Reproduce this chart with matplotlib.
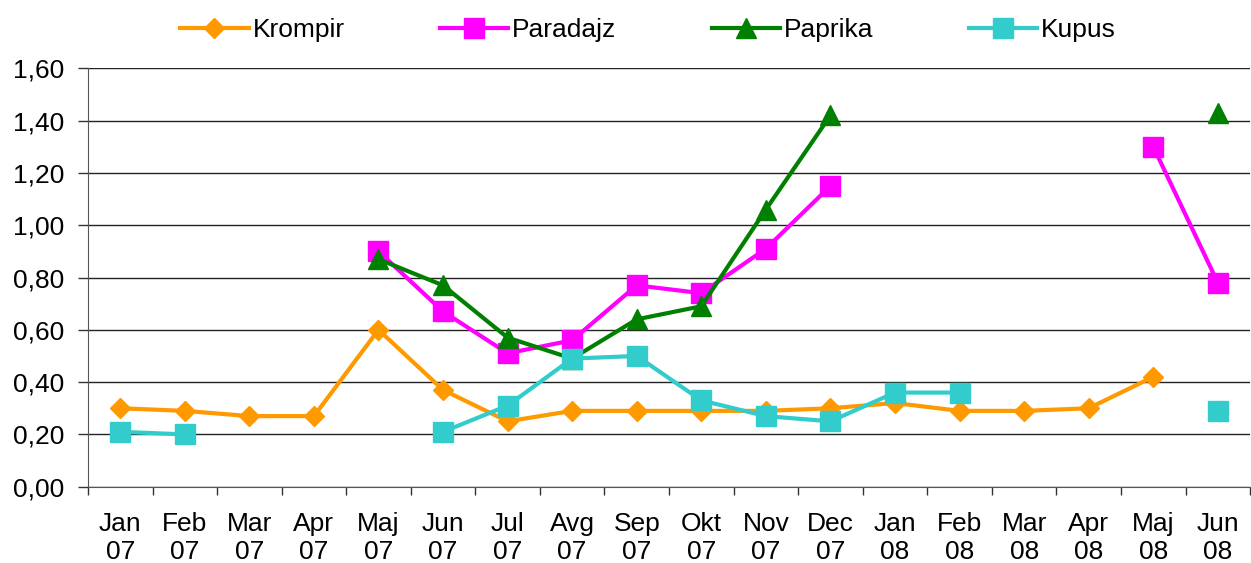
import numpy as np
import matplotlib
matplotlib.use("Agg")
import matplotlib.pyplot as plt

plt.rcParams['font.family'] = ['Liberation Sans', 'DejaVu Sans']

months = ["Jan\n07", "Feb\n07", "Mar\n07", "Apr\n07", "Maj\n07", "Jun\n07", "Jul\n07", "Avg\n07",
          "Sep\n07", "Okt\n07", "Nov\n07", "Dec\n07", "Jan\n08", "Feb\n08", "Mar\n08", "Apr\n08",
          "Maj\n08", "Jun\n08"]
nan = np.nan
krompir = [0.30, 0.29, 0.27, 0.27, 0.60, 0.37, 0.25, 0.29, 0.29, 0.29, 0.29, 0.30,
           0.32, 0.29, 0.29, 0.30, 0.42, nan]
paradajz = [nan, nan, nan, nan, 0.90, 0.67, 0.51, 0.56, 0.77, 0.74, 0.91, 1.15,
            nan, nan, nan, nan, 1.30, 0.78]
paprika = [nan, nan, nan, nan, 0.87, 0.77, 0.57, 0.49, 0.64, 0.69, 1.06, 1.42,
           nan, nan, nan, nan, nan, 1.43]
kupus = [0.21, 0.20, nan, nan, nan, 0.21, 0.31, 0.49, 0.50, 0.33, 0.27, 0.25,
         0.36, 0.36, nan, nan, nan, 0.29]
yticks = [0.0, 0.2, 0.4, 0.6, 0.8, 1.0, 1.2, 1.4, 1.6]

fig = plt.figure(figsize=(12.51, 5.63), dpi=100)
ax = fig.add_axes([0.0703, 0.1355, 0.929, 0.7432])
x = np.arange(len(months))

ax.plot(x, krompir, color="#FF9900", lw=3, marker="D", ms=10.5, label="Krompir")
ax.plot(x, paradajz, color="#FF00FF", lw=3, marker="s", ms=15, label="Paradajz")
ax.plot(x, paprika, color="#008000", lw=3, marker="^", ms=15, label="Paprika")
ax.plot(x, kupus, color="#33CCCC", lw=3, marker="s", ms=15, label="Kupus")

ax.set_xlim(-0.5, len(months) - 0.5)
ax.set_ylim(0, 1.6)
ax.set_yticks(yticks)
ax.set_yticklabels([f"{v:.2f}".replace(".", ",") for v in yticks])
ax.set_xticks(x)
ax.set_xticklabels(months, linespacing=1.2)
ax.set_xticks(np.arange(len(months) + 1) - 0.5, minor=True)
ax.tick_params(axis="x", which="major", length=0, pad=18, labelsize=19)
ax.tick_params(axis="x", which="minor", length=6, width=1, color="#333333")
ax.tick_params(axis="y", length=7, width=1, pad=10, labelsize=19, color="#333333")

ax.grid(axis="y", color="#222222", lw=1)
ax.set_axisbelow(True)
for s in ["top", "right"]:
    ax.spines[s].set_visible(False)
ax.spines["left"].set_color("#555555")
ax.spines["bottom"].set_color("#555555")

fig.legend(loc="upper center", bbox_to_anchor=(0.518, 1.01), ncol=4, frameon=False, fontsize=19,
           handlelength=2.6, columnspacing=3.6, handletextpad=0.15)

fig.savefig("out.png", dpi=100)
